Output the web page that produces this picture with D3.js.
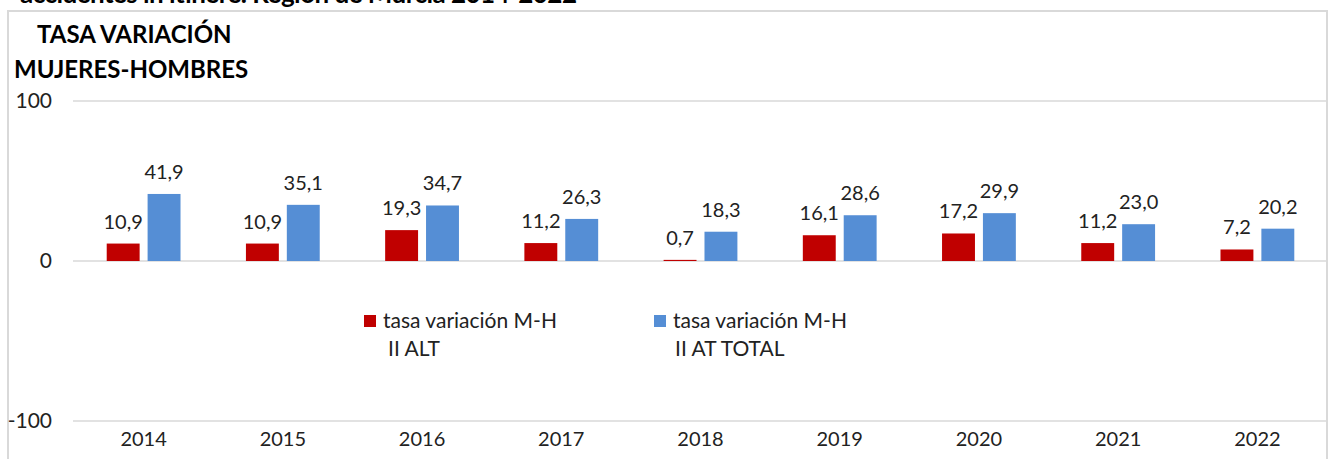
<!DOCTYPE html>
<html>
<head>
  <meta charset="utf-8">
  <title>Tasa variación mujeres-hombres</title>
  <style>
    body { margin: 0; background: #fff; }
    svg { display: block; font-family: Lato, "Open Sans", sans-serif; }
  </style>
</head>
<body>
  <svg width="1332" height="459"></svg>
  <script src="https://d3js.org/d3.v7.min.js"></script>
  <script>
  // datos
  var years = ["2014", "2015", "2016", "2017", "2018", "2019", "2020", "2021", "2022"];
  var tasaAlt = [10.9, 10.9, 19.3, 11.2, 0.7, 16.1, 17.2, 11.2, 7.2];
  var tasaTotal = [41.9, 35.1, 34.7, 26.3, 18.3, 28.6, 29.9, 23.0, 20.2];
  var yTicks = [-100, 0, 100];
  var seriesKeys = ["alt", "total"];
  var seriesColors = ["#C00000", "#558ED5"];
  var legendLabels = [["tasa variación M-H", "II ALT"], ["tasa variación M-H", "II AT TOTAL"]];

  var svg = d3.select("svg");
  var fmt = d3.formatLocale({ decimal: ",", thousands: ".", grouping: [3], currency: ["", "€"] }).format(".1f");

  // título cortado arriba (como en el original)
  svg.append("text")
    .attr("x", 20).attr("y", 3)
    .attr("font-size", 26).attr("font-weight", "bold").attr("fill", "#000")
    .attr("textLength", 557)
    .text("accidentes in itinere. Región de Murcia 2014-2022");

  // marco del gráfico
  svg.append("rect")
    .attr("x", 8).attr("y", 11)
    .attr("width", 1319).attr("height", 470)
    .attr("fill", "#fff").attr("stroke", "#D9D9D9").attr("stroke-width", 2);

  svg.append("text")
    .attr("x", 37).attr("y", 43)
    .attr("font-size", 24).attr("font-weight", "bold")
    .text("TASA VARIACIÓN");
  svg.append("text")
    .attr("x", 14).attr("y", 78)
    .attr("font-size", 24).attr("font-weight", "bold")
    .text("MUJERES-HOMBRES");

  // escalas
  var x0 = d3.scaleBand().domain(years).range([74, 1327]);
  var x1 = d3.scaleBand().domain(seriesKeys).range([0, x0.bandwidth()])
    .paddingInner(0.195).paddingOuter(0.8);
  var y = d3.scaleLinear().domain([-100, 100]).range([421, 101]);

  // líneas de cuadrícula
  svg.append("g")
    .selectAll("line")
    .data(yTicks)
    .enter()
    .append("line")
    .attr("x1", 73).attr("x2", 1326)
    .attr("y1", function(d) { return y(d); })
    .attr("y2", function(d) { return y(d); })
    .attr("stroke", "#D9D9D9").attr("stroke-width", 1.5);

  // eje y
  var yAxis = svg.append("g")
    .attr("transform", "translate(52,0)")
    .call(d3.axisLeft(y).tickValues(yTicks).tickSize(0).tickPadding(0)
      .tickFormat(function(d) { return String(d); }));
  yAxis.select(".domain").remove();
  yAxis.selectAll("text").attr("font-size", 21).attr("fill", "#222").attr("font-family", "Lato, sans-serif");

  // eje x
  var xAxis = svg.append("g")
    .attr("transform", "translate(0,432)")
    .call(d3.axisBottom(x0).tickSize(0).tickPadding(0));
  xAxis.select(".domain").remove();
  xAxis.selectAll("text").attr("font-size", 20).attr("fill", "#222").attr("font-family", "Lato, sans-serif");

  // barras
  var rows = years.map(function(yr, i) {
    return { year: yr, values: [{ key: "alt", v: tasaAlt[i] }, { key: "total", v: tasaTotal[i] }] };
  });

  var groups = svg.append("g")
    .selectAll("g")
    .data(rows)
    .enter()
    .append("g")
    .attr("transform", function(d) { return "translate(" + x0(d.year) + ",0)"; });

  groups.selectAll("rect")
    .data(function(d) { return d.values; })
    .enter()
    .append("rect")
    .attr("x", function(d) { return x1(d.key); })
    .attr("y", function(d) { return y(d.v); })
    .attr("width", x1.bandwidth())
    .attr("height", function(d) { return y(0) - y(d.v); })
    .attr("fill", function(d) { return seriesColors[seriesKeys.indexOf(d.key)]; });

  // etiquetas de datos
  groups.selectAll("text")
    .data(function(d) { return d.values; })
    .enter()
    .append("text")
    .attr("x", function(d) { return x1(d.key) + x1.bandwidth() / 2; })
    .attr("y", function(d) { return y(d.v) - 15; })
    .attr("text-anchor", "middle")
    .attr("font-size", 20).attr("fill", "#222")
    .text(function(d) { return fmt(d.v); });

  // leyenda
  var legendX = [364, 654];
  var legend = svg.append("g")
    .selectAll("g")
    .data(legendLabels)
    .enter()
    .append("g")
    .attr("transform", function(d, i) { return "translate(" + legendX[i] + ",315)"; });

  legend.append("rect")
    .attr("width", 12).attr("height", 12)
    .attr("fill", function(d, i) { return seriesColors[i]; });

  legend.append("text")
    .attr("x", 19).attr("y", 13)
    .attr("font-size", 21).attr("fill", "#222")
    .text(function(d) { return d[0]; });
  legend.append("text")
    .attr("x", function(d, i) { return i === 0 ? 24 : 21; }).attr("y", 41)
    .attr("font-size", 21).attr("fill", "#222")
    .text(function(d) { return d[1]; });
  </script>
</body>
</html>
